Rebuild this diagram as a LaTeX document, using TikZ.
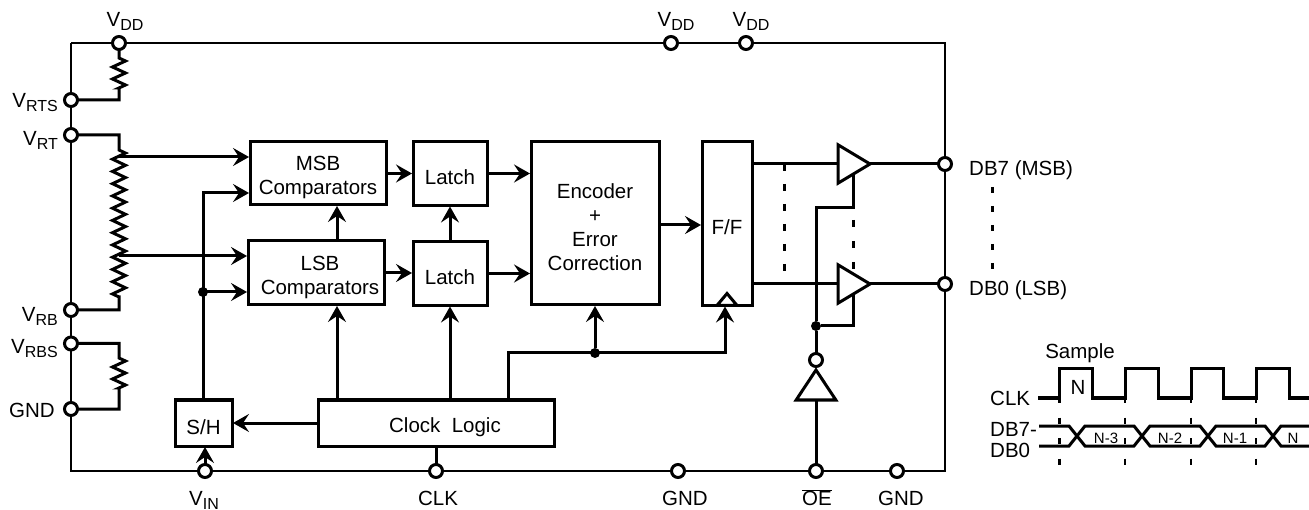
\documentclass[tikz,border=0pt]{standalone}
\usepackage{fontspec}
\setmainfont{Liberation Sans}
\usetikzlibrary{arrows.meta,positioning,shapes.geometric,decorations.pathmorphing}

\newcommand{\pinname}[2]{#1\raisebox{-3.5pt}{\fontsize{16}{16}\selectfont #2}}
\newcommand{\toprow}{\rule{0pt}{22.5pt}}

\tikzset{
  frameline/.style={line width=2.2pt},
  wire/.style={line width=3pt,line join=miter},
  conn/.style={wire,->,shorten >=1pt,every edge/.append style={draw,line width=3pt}},
  pin/.style={circle,draw,fill=white,line width=3pt,minimum size=13pt,inner sep=0pt,outer sep=0pt},
  junction/.style={circle,fill=black,minimum size=10pt,inner sep=0pt,outer sep=0pt},
  blockbox/.style={draw,line width=3pt,align=center,inner sep=0pt,outer sep=0pt,font=\fontsize{20.5}{24}\selectfont},
  buffer/.style={isosceles triangle,isosceles triangle apex angle=62,draw,line width=3pt,minimum height=32pt,inner sep=0pt,outer sep=0pt},
  pinlabel/.style={inner sep=0pt,font=\fontsize{20.5}{24}\selectfont},
  smalllabel/.style={inner sep=0pt,font=\fontsize{15}{18}\selectfont},
  resistor/.style={decoration={zigzag,segment length=#1,amplitude=6.5pt}},
  tick/.style={line width=2.6pt,dash pattern=on 6pt off 14.5pt},
}

\begin{document}
\begin{tikzpicture}[x=1pt,y=-1pt,>={Stealth[length=16pt,width=18pt,inset=6pt]},node distance=36pt]
  \useasboundingbox (0,0) rectangle (1309,510);

  % pins on the frame
  \node[pin] (vdda) at (119,43) {};
  \node[pin] (vddb) at (671,43) {};
  \node[pin] (vddc) at (746,43) {};
  \node[pin] (vrts) at (71,100) {};
  \node[pin] (vrt) at (71,135) {};
  \node[pin] (vrb) at (71,310) {};
  \node[pin] (vrbs) at (71,343.5) {};
  \node[pin] (gnda) at (71,409) {};
  \node[pin] (vin) at (205,471) {};
  \node[pin] (clkpin) at (436,471) {};
  \node[pin] (gndb) at (678,471) {};
  \node[pin] (oe) at (816,471) {};
  \node[pin] (gndc) at (897,471) {};
  \node[pin] (dbs) at (945,164) {};
  \node[pin] (dbz) at (945,284) {};
  \coordinate (tl) at (71,43);
  \coordinate (tr) at (945,43);
  \coordinate (bl) at (71,471);
  \coordinate (br) at (945,471);

  \draw[frameline] (tl) -- (vdda) -- (vddb) -- (vddc) -- (tr) -- (dbs) -- (dbz) -- (br)
    -- (gndc) -- (oe) -- (gndb) -- (clkpin) -- (vin) -- (bl)
    -- (gnda) -- (vrbs) -- (vrb) -- (vrt) -- (vrts) -- (tl);

  % pin labels
  \node[pinlabel,anchor=base] (lvdda) at (125,26.7) {\pinname{V}{DD}};
  \node[pinlabel,anchor=base] (lvddb) at (676,26.7) {\pinname{V}{DD}};
  \node[pinlabel,anchor=base] (lvddc) at (751,26.7) {\pinname{V}{DD}};
  \node[pinlabel,anchor=base east] (lvrts) at (58,108) {\pinname{V}{RTS}};
  \node[pinlabel,anchor=base east] (lvrt) at (58,146) {\pinname{V}{RT}};
  \node[pinlabel,anchor=base east] (lvrb) at (58,321.7) {\pinname{V}{RB}};
  \node[pinlabel,anchor=base east] (lvrbs) at (58,354) {\pinname{V}{RBS}};
  \node[pinlabel,anchor=base east] (lgnda) at (55,417.5) {GND};
  \node[pinlabel,anchor=base] (lvin) at (204,505.7) {\pinname{V}{IN}};
  \node[pinlabel,anchor=base] (lclk) at (438,505.7) {CLK};
  \node[pinlabel,anchor=base] (lgndb) at (685,505.7) {GND};
  \node[pinlabel,anchor=base] (loe) at (817,505.7) {$\overline{\mbox{OE}}$};
  \node[pinlabel,anchor=base] (lgndc) at (901,505.7) {GND};
  \node[pinlabel,anchor=base west] (ldbs) at (969,176) {DB7 (MSB)};
  \node[pinlabel,anchor=base west] (ldbz) at (969,296) {DB0 (LSB)};

  % blocks
  \node[blockbox,minimum width=136pt,minimum height=63pt] (msb) at (318,173.5) {\toprow MSB\\Comparators};
  \node[blockbox,minimum width=136pt,minimum height=64pt] (lsb) [below=36pt of msb,xshift=-2pt] {\toprow\hspace*{8pt}LSB\\\hspace*{8pt}Comparators};
  \node[blockbox,minimum width=74pt,minimum height=64pt] (latchm) [right=27pt of msb] {\toprow Latch};
  \node[blockbox,minimum width=74pt,minimum height=64pt] (latchl) [below=36pt of latchm] {\toprow Latch};
  \node[blockbox,minimum width=128pt,minimum height=163pt] (encoder) at (595,223.5) {\toprow Encoder\\+\\Error\\Correction};
  \node[blockbox,minimum width=50pt,minimum height=164pt] (ff) [right=43pt of encoder] {\toprow F/F};
  \node[blockbox,minimum width=57pt,minimum height=46pt] (sh) at (203.5,423) {\toprow S/H};
  \node[blockbox,minimum width=236pt,minimum height=46pt] (clock) [right=86pt of sh] {\toprow\hspace*{18pt}Clock\ \ Logic};
  \node[buffer,isosceles triangle apex angle=80,minimum height=12pt,shape border rotate=90,anchor=lower side] (ffclk) at (ff.south) {};

  % output buffers and inverter
  \node[buffer,anchor=apex] (bufs) at (870,164) {};
  \node[buffer,anchor=apex] (bufz) at (870,284) {};
  \node[buffer,isosceles triangle apex angle=67,shape border rotate=90,minimum height=30pt,anchor=apex] (inv) at (816,370) {};
  \node[pin] (invout) at (816,360) {};
  \node[junction] (enjoin) at (816,326) {};
  \node[junction] (shjoin) at (203,292) {};
  \node[junction] (clkjoin) at (595,353) {};

  % resistors
  \coordinate (rsa) at (119,58);
  \coordinate (rsb) at (119,88);
  \coordinate (lada) at (119,150);
  \coordinate (ladb) at (119,297);
  \coordinate (rba) at (119,358);
  \coordinate (rbb) at (119,388);
  \draw[wire] (vdda) -- (rsa) decorate[resistor=12pt] {-- (rsb)} |- (vrts);
  \draw[wire] (vrt) -| (lada) decorate[resistor=12.25pt] {-- (ladb)} |- (vrb);
  \draw[wire] (vrbs) -| (rba) decorate[resistor=12pt] {-- (rbb)} |- (gnda);

  % signal paths
  \coordinate (tapm) at (119,157);
  \coordinate (tapl) at (119,256);
  \coordinate (shm) at (250,193);
  \coordinate (clka) at (337,400);
  \coordinate (clkb) at (450,400);
  \coordinate (clkc) at (508,400);
  \coordinate (clkd) at (725,353);
  \coordinate (ffin) at (702,225);
  \path[conn] (tapm) edge (tapm -| msb.west)
              (tapl) edge (tapl -| lsb.west)
              (sh.north |- shjoin) edge (shjoin -| lsb.west)
              (clka |- lsb.north) edge (clka |- msb.south)
              (latchl.north) edge (latchm.south)
              (msb.east) edge (latchm.west)
              (lsb.east) edge (lsb.east -| latchl.west)
              (latchm.east) edge (latchm.east -| encoder.west)
              (latchl.east) edge (latchl.east -| encoder.west)
              (ffin -| encoder.east) edge (ffin)
              (clock.west) edge (sh.east)
              (vin) edge (vin |- sh.south)
              (clka) edge (clka |- lsb.south)
              (clkb) edge (latchl.south)
              (clkjoin) edge (clkjoin |- encoder.south);
  \draw[conn] (sh.north) |- (shm);
  \draw[conn] (clkc) |- (clkd) -- (clkd |- ff.south);
  \draw[wire] (clkpin) -- (clkpin |- clock.south);

  % outputs
  \coordinate (enbend) at (816,208);
  \coordinate (ensb) at (853,174);
  \coordinate (enzb) at (853,294);
  \path[draw,wire] (dbs) -- (bufs.apex) (dbz) -- (bufz.apex)
    (dbs -| ff.east) -- (dbs -| bufs.lower side) (dbz -| ff.east) -- (dbz -| bufz.lower side);
  \draw[wire] (oe) -- (inv.lower side);
  \draw[wire] (invout) -- (enjoin) -- (enbend) -| (ensb);
  \draw[wire] (enjoin) -| (enzb);

  % dashed links
  \coordinate (dasha) at (784,164);
  \coordinate (dashb) at (784,284);
  \coordinate (dashc) at (853,220);
  \coordinate (dashd) at (853,270);
  \coordinate (dashe) at (992,187);
  \coordinate (dashf) at (992,269);
  \draw[wire,dash pattern=on 7pt off 13pt] (dasha) -- (dashb);
  \draw[wire,dash pattern=on 7pt off 14pt] (dashc) -- (dashd);
  \draw[wire,dash pattern=on 6pt off 13pt] (dashe) -- (dashf);

  % timing
  \node[pinlabel,anchor=base] (lsample) at (1080,359) {Sample};
  \node[pinlabel,anchor=base west] (lclkt) at (990,406) {CLK};
  \node[pinlabel,anchor=base west] (ldbt) at (990,436.7) {DB7-};
  \node[pinlabel,anchor=base west] (ldbb) at (990,457) {DB0};
  \node[pinlabel,anchor=base] (tn) at (1078,395) {N};
  \node[smalllabel,anchor=base] (tna) at (1106,443) {N-3};
  \node[smalllabel,anchor=base] (tnb) at (1170,443) {N-2};
  \node[smalllabel,anchor=base] (tnc) at (1235,443) {N-1};
  \node[smalllabel,anchor=base] (tnd) at (1293,443) {N};

  \draw[wire] (1038,398) -- (1059.5,398) -- (1059.5,369) -- (1092,369) -- (1092,398)
    -- (1125,398) -- (1125,369) -- (1158,369) -- (1158,398)
    -- (1191,398) -- (1191,369) -- (1223,369) -- (1223,398)
    -- (1256,398) -- (1256,369) -- (1289,369) -- (1289,398) -- (1309,398);
  \draw[wire] (1039,426) -- (1069,426) -- (1085,446) -- (1134,446) -- (1150,426) -- (1200,426)
    -- (1216,446) -- (1265,446) -- (1281,426) -- (1309,426);
  \draw[wire] (1039,446) -- (1069,446) -- (1085,426) -- (1134,426) -- (1150,446) -- (1200,446)
    -- (1216,426) -- (1265,426) -- (1281,446) -- (1309,446);
  \foreach \tx in {1059.5,1125,1191,1256}
    \draw[tick] (\tx,397) -- (\tx,465);
\end{tikzpicture}
\end{document}
